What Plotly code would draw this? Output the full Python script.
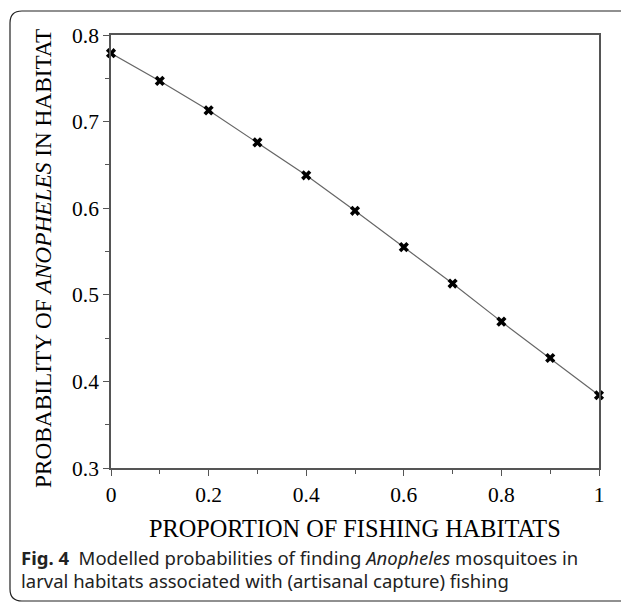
import plotly.graph_objects as go

proportion = [0.0, 0.1, 0.2, 0.3, 0.4, 0.5, 0.6, 0.7, 0.8, 0.9, 1.0]
probability = [0.779, 0.747, 0.713, 0.676, 0.638, 0.597, 0.555, 0.513, 0.469, 0.427, 0.384]
x_ticks = [0, 0.2, 0.4, 0.6, 0.8, 1]
x_tick_labels = ["0", "0.2", "0.4", "0.6", "0.8", "1"]
y_ticks = [0.3, 0.4, 0.5, 0.6, 0.7, 0.8]
y_tick_labels = ["0.3", "0.4", "0.5", "0.6", "0.7", "0.8"]

OFF = 8  # browser body margin
W, H = 629 - OFF, 603 - OFF
L = 111 - OFF
T = 35 - OFF
R = W - (599 - OFF)
B = H - (468 - OFF)

fig = go.Figure()
fig.add_trace(go.Scatter(
    x=proportion, y=probability, mode="lines+markers",
    line=dict(color="#666666", width=1.2),
    marker=dict(symbol="x", size=9, color="black", line=dict(width=0)),
    showlegend=False, cliponaxis=False,
))

serif = "Liberation Serif, Times New Roman, serif"
axis_common = dict(
    showgrid=False, zeroline=False, showline=True, linecolor="#555555", linewidth=1.5,
    mirror=True, ticks="outside", ticklen=6, tickwidth=1.2, tickcolor="#555555",
    tickfont=dict(family=serif, size=21.5, color="black"),
)
fig.update_xaxes(range=[0, 1], tickvals=x_ticks, ticktext=x_tick_labels,
                 minor=dict(dtick=0.1, ticks="outside", ticklen=4, tickcolor="#555555", tickwidth=1.2, tick0=0),
                 **axis_common)
fig.update_yaxes(range=[0.3, 0.8], tickvals=y_ticks, ticktext=y_tick_labels,
                 minor=dict(dtick=0.05, ticks="outside", ticklen=4, tickcolor="#555555", tickwidth=1.2, tick0=0.3),
                 **axis_common)

pw = W - L - R
ph = H - T - B
def px(x):  # page pixel -> paper
    return (x - OFF - L) / pw
def py(y):
    return 1 - (y - OFF - T) / ph

fig.add_annotation(xref="paper", yref="paper", x=0.5, y=py(528), xanchor="center", yanchor="middle",
                   text="PROPORTION OF FISHING HABITATS", showarrow=False,
                   font=dict(family=serif, size=24.3, color="black"))
fig.add_annotation(xref="paper", yref="paper", x=px(43), y=py(259), xanchor="center", yanchor="middle",
                   text="PROBABILITY OF <i>ANOPHELES</i> IN HABITAT", showarrow=False, textangle=-90,
                   font=dict(family=serif, size=23.3, color="black"))

# rounded frame
x0, y0, x1, y1, r = 10, 11, 640, 601, 12
path = (f"M {px(x0)} {py(y0 + r)} L {px(x0)} {py(y1 - r)} Q {px(x0)} {py(y1)} {px(x0 + r)} {py(y1)} "
        f"L {px(x1 - r)} {py(y1)} Q {px(x1)} {py(y1)} {px(x1)} {py(y1 - r)} "
        f"L {px(x1)} {py(y0 + r)} Q {px(x1)} {py(y0)} {px(x1 - r)} {py(y0)} "
        f"L {px(x0 + r)} {py(y0)} Q {px(x0)} {py(y0)} {px(x0)} {py(y0 + r)} Z")
fig.add_shape(type="path", path=path, xref="paper", yref="paper",
              line=dict(color="#222222", width=1.2), layer="above")

sans = "Noto Sans, Open Sans, sans-serif"
fig.add_annotation(xref="paper", yref="paper", x=px(19), y=py(557), xanchor="left", yanchor="middle",
                   text="<b>Fig. 4</b>  Modelled probabilities of finding <i>Anopheles</i> mosquitoes in",
                   showarrow=False, font=dict(family=sans, size=18.5, color="#222222"))
fig.add_annotation(xref="paper", yref="paper", x=px(19), y=py(580), xanchor="left", yanchor="middle",
                   text="larval habitats associated with (artisanal capture) fishing",
                   showarrow=False, font=dict(family=sans, size=18.5, color="#222222"))

fig.update_layout(width=W, height=H, margin=dict(l=L, r=R, t=T, b=B),
                  paper_bgcolor="white", plot_bgcolor="white")
fig.write_html("out.html")
